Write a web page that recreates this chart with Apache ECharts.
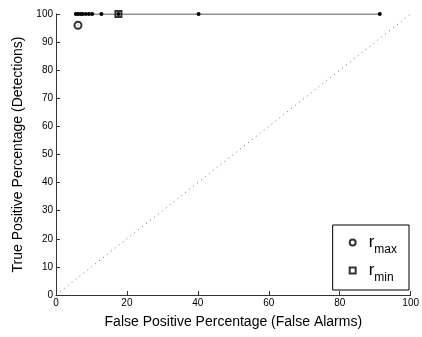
<!DOCTYPE html>
<html>
<head>
<meta charset="utf-8">
<script src="https://cdn.jsdelivr.net/npm/echarts@6/dist/echarts.min.js"></script>
<style>html,body{margin:0;padding:0;background:#fff}#c{width:422px;height:337px}</style>
</head>
<body>
<div id="c"></div>
<script>
// ROC operating points (false alarm %, detection %)
const rocFP = [5.6, 6.2, 6.9, 7.5, 8.4, 9.3, 10.2, 12.8, 17.6, 40.2, 91.3];
const rocTP = [100, 100, 100, 100, 100, 100, 100, 100, 100, 100, 100];
// Highlighted thresholds
const rMaxPoint = [6.2, 96];
const rMinPoint = [17.6, 100];
// Chance diagonal
const chanceLine = [[0, 0], [100, 100]];
const xTicks = [0, 20, 40, 60, 80, 100];
const yTicks = [0, 10, 20, 30, 40, 50, 60, 70, 80, 90, 100];

const font = '"Liberation Sans", Arial, sans-serif';
const chart = echarts.init(document.getElementById('c'));
chart.setOption({
  animation: false,
  backgroundColor: '#fff',
  grid: { left: 56, right: 9, top: 14, bottom: 42 },
  xAxis: {
    type: 'value', min: xTicks[0], max: xTicks[xTicks.length - 1], interval: 20,
    name: 'False Positive Percentage (False Alarms)', nameLocation: 'middle', nameGap: 20,
    nameTextStyle: { fontFamily: font, fontSize: 14, color: '#000' },
    axisLine: { lineStyle: { color: '#333', width: 1 } },
    axisTick: { inside: true, length: 4, lineStyle: { color: '#333' } },
    axisLabel: { fontFamily: font, fontSize: 10, color: '#000', margin: 3 },
    splitLine: { show: false }
  },
  yAxis: {
    type: 'value', min: yTicks[0], max: yTicks[yTicks.length - 1], interval: 10,
    name: 'True Positive Percentage (Detections)', nameLocation: 'middle', nameGap: 28,
    nameTextStyle: { fontFamily: font, fontSize: 14, color: '#000' },
    axisLine: { lineStyle: { color: '#333', width: 1 } },
    axisTick: { inside: true, length: 4, lineStyle: { color: '#333' } },
    axisLabel: { fontFamily: font, fontSize: 10, color: '#000', margin: 3 },
    splitLine: { show: false }
  },
  legend: {
    orient: 'vertical', right: 13, bottom: 47,
    padding: [9, 12, 6, 16],
    itemGap: 6,
    itemWidth: 6, itemHeight: 6,
    itemStyle: { borderWidth: 1 },
    borderColor: '#000', borderWidth: 1, backgroundColor: '#fff',
    data: ['rmax', 'rmin'],
    formatter: function (n) {
      return '{r|r}{s|' + n.slice(1) + '}';
    },
    textStyle: {
      fontFamily: font, color: '#000',
      rich: {
        r: { fontSize: 17, fontFamily: font, padding: [0, 0, 0, 8] },
        s: { fontSize: 12, fontFamily: font, verticalAlign: 'bottom', padding: [15, 0, 0, 0] }
      }
    }
  },
  series: [
    {
      type: 'line', data: chanceLine, symbol: 'none', silent: true,
      lineStyle: { color: '#444', width: 0.8, type: [1, 4] }
    },
    {
      type: 'line', data: rocFP.map((x, i) => [x, rocTP[i]]),
      symbol: 'circle', symbolSize: 4, itemStyle: { color: '#000' },
      lineStyle: { color: '#222', width: 1.2 }
    },
    {
      type: 'scatter', data: [rMaxPoint], symbol: 'circle', symbolSize: 2.5,
      itemStyle: { color: '#000' }
    },
    {
      name: 'rmax', type: 'scatter', data: [rMaxPoint], symbol: 'emptyCircle', symbolSize: 7,
      itemStyle: { color: '#000', borderColor: '#000', borderWidth: 1 }
    },
    {
      name: 'rmin', type: 'scatter', data: [rMinPoint], symbol: 'emptyRect', symbolSize: 6,
      itemStyle: { color: '#000', borderColor: '#000', borderWidth: 1 }
    }
  ]
});
</script>
</body>
</html>
